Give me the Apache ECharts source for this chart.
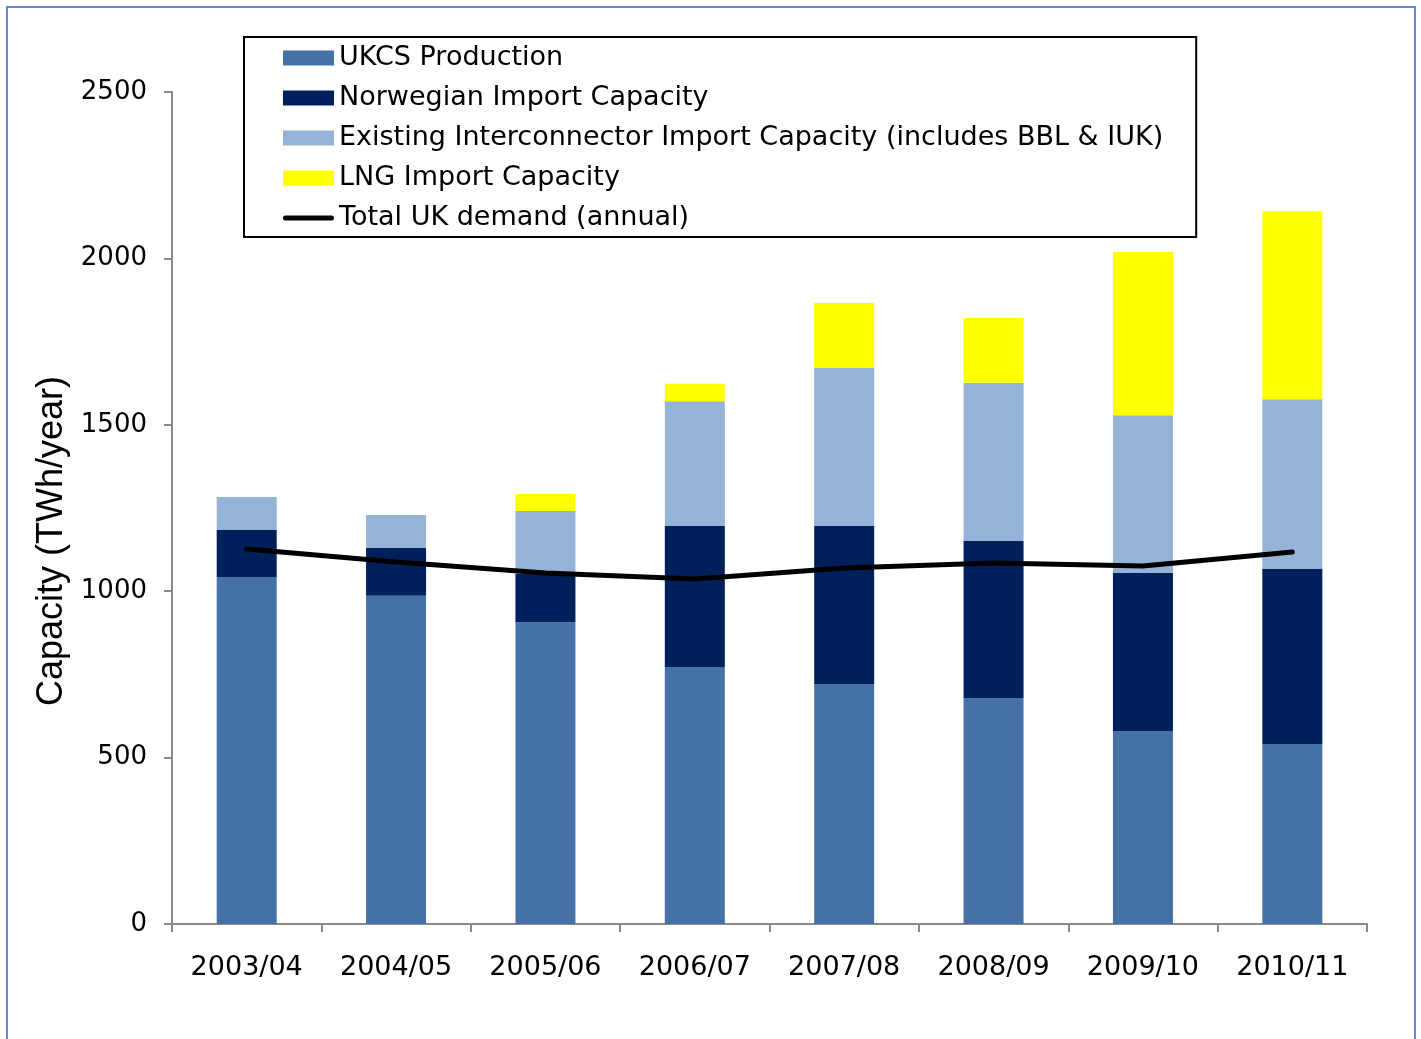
<!DOCTYPE html>
<html>
<head>
<meta charset="utf-8">
<title>UK gas supply capacity</title>
<script src="https://cdn.jsdelivr.net/npm/echarts@6/dist/echarts.min.js"></script>
<style>
  html, body { margin: 0; padding: 0; background: #fff; }
  #chart { width: 1421px; height: 1039px; }
</style>
</head>
<body>
<div id="chart"></div>
<script>
// category labels (gas years)
const years = ['2003/04', '2004/05', '2005/06', '2006/07', '2007/08', '2008/09', '2009/10', '2010/11'];

// stacked pieces, TWh/year
const ukcsProduction = [1043, 986, 907, 772, 721, 679, 580, 541];
const norwegianImport = [141, 144, 145, 424, 475, 472, 475, 526];
const interconnectorImport = [99, 99, 189, 375, 475, 475, 474, 510];
const lngImport = [0, 0, 51, 52, 195, 195, 490, 565];

// line
const totalDemand = [1127, 1088, 1055, 1037, 1070, 1085, 1076, 1118];

const yTicks = { min: 0, max: 2500, interval: 500 };

const font = 'DejaVu Sans, Verdana, sans-serif';

// thick rounded line for the demand legend entry (tiny corner marks keep the 51x15 box)
const lineIcon = 'path://M0,0L0.01,0Z M2.5,5 L48.5,5 A2.5,2.5 0 0 1 48.5,10 L2.5,10 A2.5,2.5 0 0 1 2.5,5 Z M51,15L50.99,15Z';

let chart = echarts.init(document.getElementById('chart'));

function barSeries(name, data, color) {
    return {
        name: name,
        type: 'bar',
        stack: 'cap',
        data: data,
        barWidth: 60,
        itemStyle: { color: color },
        emphasis: { disabled: true }
    };
}

let option = {
    animation: false,
    backgroundColor: '#fff',
    grid: { left: 172, right: 54, top: 92, bottom: 115, containLabel: false },
    legend: {
        orient: 'vertical',
        left: 244,
        top: 37,
        padding: [6, 33, 4, 39],
        borderColor: '#000',
        borderWidth: 2,
        itemWidth: 51,
        itemHeight: 15,
        itemGap: 10,
        selectedMode: false,
        textStyle: { fontFamily: font, fontSize: 27, color: '#000', lineHeight: 30 },
        data: [
            { name: 'UKCS Production', icon: 'rect' },
            { name: 'Norwegian Import Capacity', icon: 'rect' },
            { name: 'Existing Interconnector Import Capacity (includes BBL & IUK)', icon: 'rect' },
            { name: 'LNG Import Capacity', icon: 'rect' },
            { name: 'Total UK demand (annual)', icon: lineIcon, itemStyle: { color: '#000', borderWidth: 0 } }
        ]
    },
    xAxis: {
        type: 'category',
        data: years,
        axisLine: { lineStyle: { color: '#898989', width: 2 } },
        axisTick: { show: true, length: 8, lineStyle: { color: '#898989', width: 2 } },
        axisLabel: { fontFamily: font, fontSize: 27, color: '#000', margin: 30 }
    },
    yAxis: {
        type: 'value',
        min: yTicks.min,
        max: yTicks.max,
        interval: yTicks.interval,
        name: 'Capacity (TWh/year)',
        nameLocation: 'middle',
        nameRotate: 90,
        nameGap: 100,
        nameTextStyle: {
            fontFamily: 'Liberation Sans, Arial, sans-serif',
            fontSize: 36,
            color: '#000',
            padding: [0, 66, 0, 0]
        },
        axisLine: { show: true, lineStyle: { color: '#898989', width: 2 } },
        axisTick: { show: true, length: 8, lineStyle: { color: '#898989', width: 2 } },
        splitLine: { show: false },
        axisLabel: {
            fontFamily: font,
            fontSize: 26,
            color: '#000',
            margin: 25,
            formatter: function (v) { return String(v); }
        }
    },
    series: [
        barSeries('UKCS Production', ukcsProduction, '#4571a6'),
        barSeries('Norwegian Import Capacity', norwegianImport, '#00205c'),
        barSeries('Existing Interconnector Import Capacity (includes BBL & IUK)', interconnectorImport, '#95b3d7'),
        barSeries('LNG Import Capacity', lngImport, '#ffff00'),
        {
            name: 'Total UK demand (annual)',
            type: 'line',
            data: totalDemand,
            symbol: 'none',
            z: 5,
            itemStyle: { color: '#000' },
            lineStyle: { color: '#000', width: 5, cap: 'round', join: 'round' },
            emphasis: { disabled: true }
        }
    ],
    graphic: [{
        type: 'rect',
        silent: true,
        z: 100,
        shape: { x: 7, y: 7, width: 1408, height: 1100 },
        style: { fill: null, stroke: '#5b8ed6', lineWidth: 2 }
    }]
};

chart.setOption(option);
window.onresize = function () {
    chart.resize();
};
</script>
</body>
</html>
